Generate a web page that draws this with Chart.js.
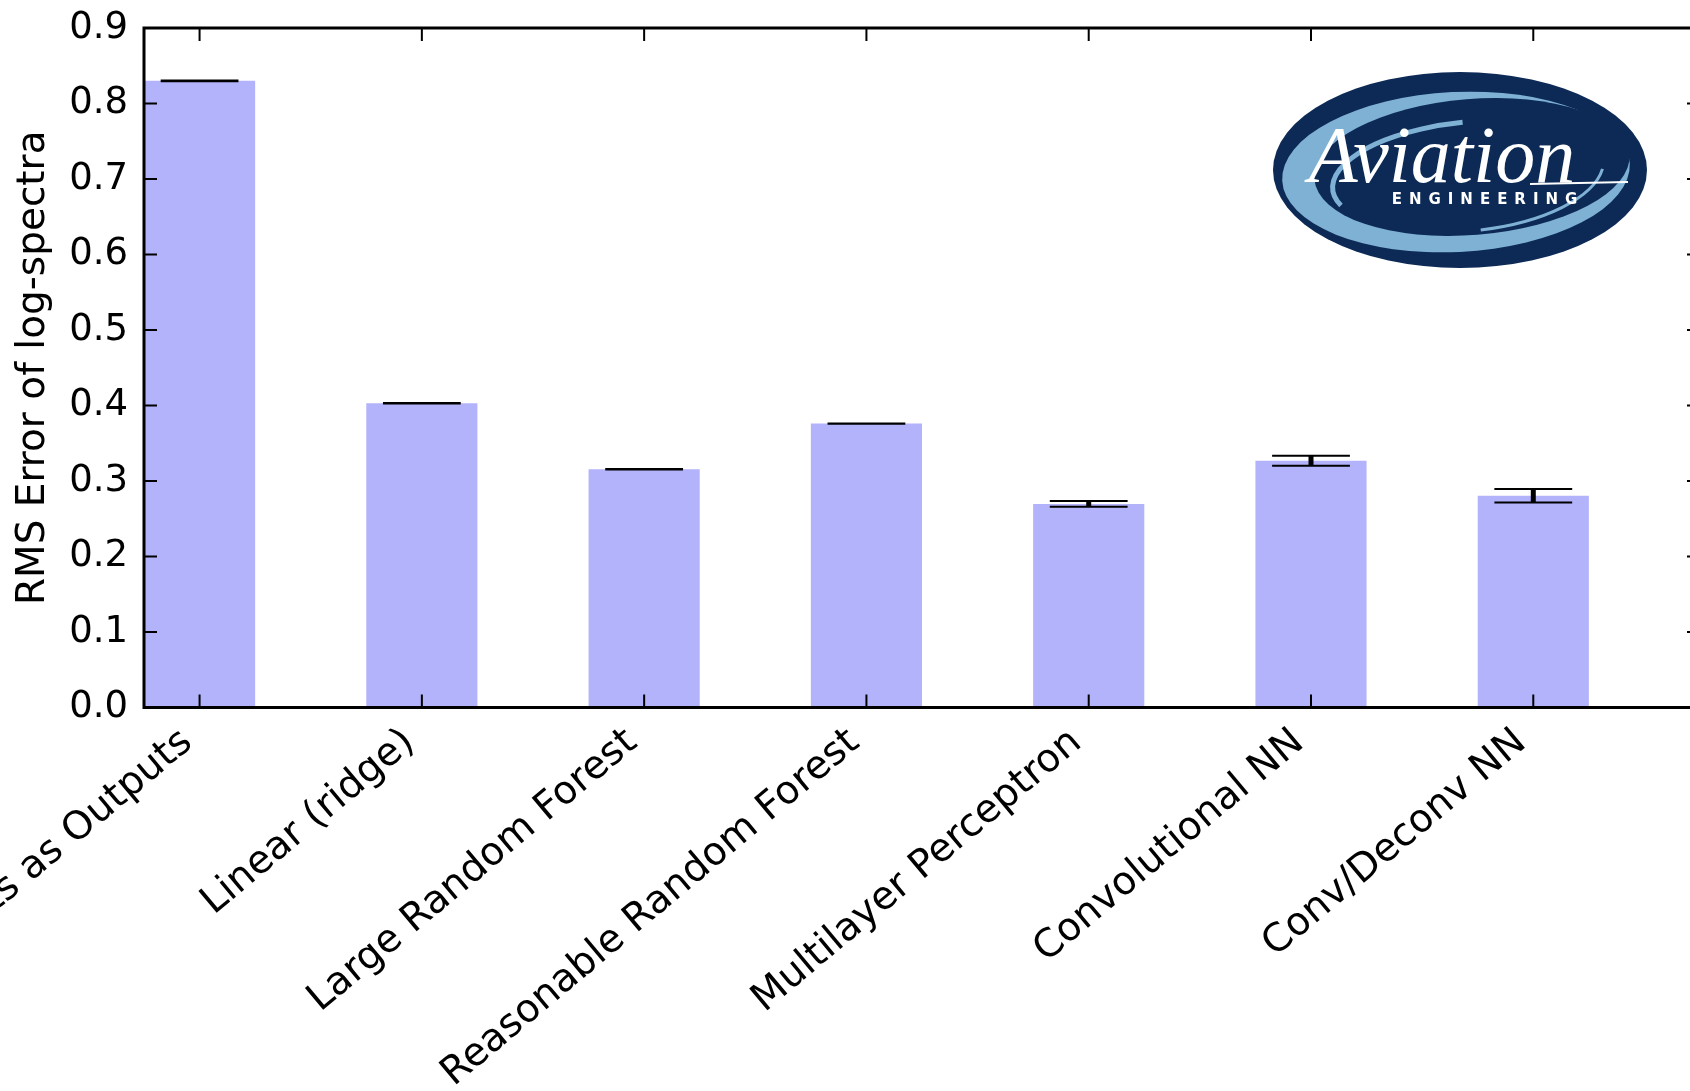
<!DOCTYPE html>
<html>
<head>
<meta charset="utf-8">
<script src="https://cdn.jsdelivr.net/npm/chart.js@4.4.1/dist/chart.umd.min.js"></script>
<style>
  html, body { margin: 0; padding: 0; background: #fff; overflow: hidden; }
  #wrap { position: absolute; left: -400px; top: 0; width: 2120px; height: 1091px; }
</style>
</head>
<body>
<div id="wrap"><canvas id="myChart"></canvas></div>
<script>
// values
const categories = ['Inputs as Outputs', 'Linear (ridge)', 'Large Random Forest', 'Reasonable Random Forest',
  'Multilayer Perceptron', 'Convolutional NN', 'Conv/Deconv NN'];
const rmsError = [0.830, 0.403, 0.3155, 0.376, 0.2697, 0.3267, 0.2805];
const rmsSpread = [0.0004, 0.0003, 0.0003, 0.0003, 0.0038, 0.0066, 0.009];
const yTickValues = [0, 0.1, 0.2, 0.3, 0.4, 0.5, 0.6, 0.7, 0.8, 0.9];

Chart.defaults.font.family = 'DejaVu Sans';
Chart.defaults.color = '#000';

// frame, inward ticks and error bars, matplotlib style
const frameAndErrors = {
  id: 'frameAndErrors',
  afterDatasetsDraw(chart) {
    const { ctx, chartArea: a, scales: { x, y } } = chart;
    ctx.save();
    ctx.strokeStyle = '#000';
    rmsError.forEach((v, i) => {
      const px = x.getPixelForValue(i);
      const hi = y.getPixelForValue(v + rmsSpread[i]);
      const lo = y.getPixelForValue(v - rmsSpread[i]);
      const half = x.getPixelForValue(i + 0.175) - px;
      ctx.lineWidth = 5;
      ctx.beginPath(); ctx.moveTo(px, hi); ctx.lineTo(px, lo); ctx.stroke();
      ctx.lineWidth = 2;
      ctx.beginPath();
      ctx.moveTo(px - half, hi); ctx.lineTo(px + half, hi);
      ctx.moveTo(px - half, lo); ctx.lineTo(px + half, lo);
      ctx.stroke();
    });
    ctx.lineWidth = 2;
    ctx.beginPath();
    x.ticks.forEach(t => {
      const px = x.getPixelForValue(t.value);
      ctx.moveTo(px, a.bottom); ctx.lineTo(px, a.bottom - 13);
      ctx.moveTo(px, a.top); ctx.lineTo(px, a.top + 13);
    });
    y.ticks.forEach(t => {
      const py = y.getPixelForValue(t.value);
      ctx.moveTo(a.left, py); ctx.lineTo(a.left + 13, py);
      ctx.moveTo(a.right, py); ctx.lineTo(a.right - 13, py);
    });
    ctx.stroke();
    ctx.lineWidth = 3;
    ctx.strokeRect(a.left, a.top, a.right - a.left, a.bottom - a.top);
    ctx.restore();
  },
  afterDraw(chart) {
    // Aviation Engineering logo
    const { ctx, chartArea: a } = chart;
    const cx = a.right - 240, cy = a.top + 142;
    ctx.save();
    ctx.fillStyle = '#0c2a55';
    ctx.beginPath(); ctx.ellipse(cx, cy, 187, 98, 0, 0, Math.PI * 2); ctx.fill();
    ctx.fillStyle = '#7eb1d4';
    ctx.beginPath(); ctx.ellipse(cx - 4, cy + 2, 174, 80, -0.05, 0, Math.PI * 2); ctx.fill();
    ctx.fillStyle = '#0c2a55';
    ctx.beginPath(); ctx.ellipse(cx + 12, cy - 3, 158, 68, -0.08, 0, Math.PI * 2); ctx.fill();
    ctx.strokeStyle = '#7eb1d4';
    ctx.lineWidth = 5;
    ctx.beginPath(); ctx.ellipse(cx + 8, cy + 6, 136, 54, -0.1, Math.PI * 0.9, Math.PI * 1.5); ctx.stroke();
    ctx.lineWidth = 3;
    ctx.beginPath(); ctx.ellipse(cx - 6, cy - 4, 150, 66, -0.05, Math.PI * 0.05, Math.PI * 0.45); ctx.stroke();
    ctx.fillStyle = '#fff';
    ctx.font = 'italic 80px "Liberation Serif"';
    ctx.textAlign = 'center';
    ctx.textBaseline = 'alphabetic';
    ctx.fillText('Aviation', cx - 18, cy + 12);
    ctx.strokeStyle = '#fff';
    ctx.lineWidth = 2;
    ctx.beginPath(); ctx.moveTo(cx + 70, cy + 14); ctx.lineTo(cx + 168, cy + 12); ctx.stroke();
    ctx.font = 'bold 15px "DejaVu Sans"';
    ctx.letterSpacing = '7px';
    ctx.fillText('ENGINEERING', cx + 28, cy + 34);
    ctx.restore();
  }
};

const ctx = document.getElementById('myChart');
new Chart(ctx, {
  type: 'bar',
  data: {
    datasets: [{
      data: rmsError.map((v, i) => ({ x: i, y: v })),
      backgroundColor: '#b3b3fc',
      borderWidth: 0,
      barPercentage: 0.5,
      categoryPercentage: 1
    }]
  },
  options: {
    responsive: true,
    maintainAspectRatio: false,
    animation: false,
    layout: { padding: { left: 400, top: 28, right: 20, bottom: 0 } },
    plugins: { legend: { display: false }, tooltip: { enabled: false } },
    scales: {
      x: {
        type: 'linear',
        offset: false,
        min: -0.25,
        max: 6.75,
        grid: { display: false, drawTicks: false },
        border: { display: false },
        afterBuildTicks: axis => { axis.ticks = categories.map((c, i) => ({ value: i })); },
        afterFit: s => { s.height = 383.5; s.paddingLeft = 0; s.paddingRight = 0; },
        ticks: {
          autoSkip: false,
          minRotation: 40,
          maxRotation: 40,
          padding: 12,
          labelOffset: -12,
          font: { size: 39 },
          callback: v => categories[v]
        }
      },
      y: {
        min: 0,
        max: 0.9,
        grid: { display: false, drawTicks: false },
        border: { display: false },
        afterBuildTicks: axis => { axis.ticks = yTickValues.map(v => ({ value: v })); },
        afterFit: s => { s.width = 144; s.paddingTop = 0; s.paddingBottom = 0; },
        ticks: {
          padding: 16,
          font: { size: 37 },
          callback: v => v.toFixed(1)
        },
        title: {
          display: true,
          text: 'RMS Error of log-spectra',
          font: { size: 39 },
          padding: { top: 10, bottom: 0 }
        }
      }
    }
  },
  plugins: [frameAndErrors]
});
</script>
</body>
</html>
